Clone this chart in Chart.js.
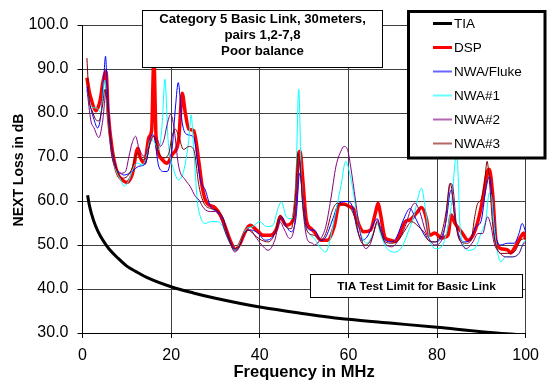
<!DOCTYPE html>
<html>
<head>
<meta charset="utf-8">
<script src="https://cdn.jsdelivr.net/npm/chart.js@4"></script>
<style>
    body { margin: 0; background: #fff; }
    #next-chart { display: block; }
</style>
</head>
<body>
<canvas id="next-chart" width="547" height="387"></canvas>
<script>
"use strict";

//=> Data: [frequency MHz, NEXT loss dB] per trace
var tiaLimit = [[1.15, 61.3], [1.5, 59.3], [2, 57.2], [3, 54.2], [4, 52.1], [5, 50.5], [6, 49.1], [8, 47], [10, 45.2],
    [12, 44], [15, 42.4], [20, 40.5], [25, 39.1], [30, 37.9], [40, 35.9], [50, 34.4], [60, 33.1], [70, 32.2], [80, 31.3], [90, 30.3], [100, 29.5]];

var dsp = [[1, 88], [1.5, 85], [2, 83], [3, 80.5], [4, 83], [4.6, 87], [5.3, 89.4], [5.8, 80], [6.7, 71.7], [7.9, 66.3],
    [9, 64.8], [9.9, 64.2], [11.2, 66], [12.5, 72], [13, 70], [14, 68.6], [15, 74.5], [15.6, 76], [16.1, 92.5], [16.6, 74.7],
    [18, 69.4], [19.1, 68.6], [20.2, 70.5], [21.7, 74], [22.5, 84.5], [23.2, 80], [24, 76.3], [25.1, 76], [26.3, 68.6], [27, 63.3],
    [27.7, 60.3], [28.5, 59.1], [29.6, 58.7], [31.1, 56.8], [32.2, 54.2], [33.3, 51.1], [34.5, 49], [35.6, 50.4], [36.7, 53], [37.8, 54.5],
    [39.3, 53.4], [40.8, 52.2], [42.3, 52.2], [43.8, 53.7], [44.6, 56.4], [46, 54.5], [47.5, 55.7], [48.2, 61], [48.8, 71], [49.1, 71.3],
    [49.7, 65], [50.5, 55.7], [51.6, 53.7], [52.3, 53], [53.8, 51.1], [55.3, 51.1], [56.8, 54.2], [57.9, 59.2], [59, 59.3], [60.1, 58.8],
    [61.3, 58], [62.4, 54.5], [63.5, 53], [65, 53.4], [66.1, 57.3], [66.7, 59.5], [67.2, 57.3], [68.3, 51.6], [69.5, 51.1], [70.6, 50.8],
    [71.7, 52.7], [72.8, 55.3], [73.9, 55.7], [75.4, 57.3], [76.5, 58.5], [77.6, 56], [78.3, 52.2], [79.5, 52.7], [81, 51.6], [82.5, 52.3],
    [83.2, 56.8], [84, 55], [85.5, 53], [87, 51.1], [88, 52], [89.2, 55.3], [90.3, 60.3], [91.4, 66.8], [91.8, 67.2], [92.6, 61],
    [93.3, 51.1], [94.4, 49.2], [95.9, 48.9], [96.6, 48.2], [97.4, 49.2], [98.9, 51.9], [99.6, 52.7], [100, 51.3]];

var nwaFluke = [[1, 86], [1.9, 81], [2.6, 78.5], [3.4, 76.6], [4.2, 80], [4.8, 88], [5.2, 92.9], [5.6, 85], [6.4, 74], [7.5, 67.9],
    [8.6, 66.3], [9.4, 65.9], [11.2, 66.7], [12.7, 67.9], [13.9, 68.2], [14.6, 69.8], [15.4, 74.7], [16, 75], [17.2, 67.9], [18.4, 66.7],
    [19.1, 66.7], [20.2, 71.7], [21, 81.6], [21.6, 86.9], [22.5, 77.8], [23.6, 75.1], [25.1, 74.5], [25.9, 69.4], [26.6, 64.8], [27.7, 62.5],
    [28.9, 58.7], [30.4, 57.6], [31.8, 56], [32.6, 53], [33.7, 50], [34.4, 48.8], [35.6, 50.4], [36.7, 53], [38.2, 53.4], [39.7, 52.6],
    [41.2, 51.1], [42.6, 51.5], [44.1, 54.5], [44.9, 56.4], [46, 54.2], [47.1, 53], [48.2, 56.4], [49, 66.3], [49.7, 61], [50.5, 54.5],
    [51.6, 53.4], [52.3, 53.4], [53.8, 51], [54.9, 51.8], [56.4, 55.7], [57.9, 59.5], [59.8, 59.9], [60.9, 58.7], [62, 53.4], [63.1, 51.1],
    [64.2, 51.8], [65.7, 54.9], [66.5, 56], [67.2, 54.2], [68.3, 51.1], [69.8, 50.7], [70.9, 51.8], [72.4, 55.7], [73.9, 58.3], [75, 56.4],
    [76.5, 53.4], [78, 51.1], [79.5, 50.7], [81, 51.8], [82.1, 55.7], [82.9, 61.8], [83.2, 62.5], [84, 56.4], [85.1, 51.8], [86.2, 50.7],
    [87.7, 51.5], [88.8, 54.2], [89.9, 55.3], [91, 62.5], [91.8, 65.6], [92.6, 58.7], [93.3, 51.8], [94.4, 50], [95.9, 50.4], [97.4, 50.4],
    [98.5, 52.6], [99.2, 54.9], [100, 53]];

var nwa1 = [[1, 85], [1.9, 81.6], [2.6, 81.2], [3.4, 81], [4.2, 80], [5, 87.5], [5.5, 82], [6.4, 72.4], [7.5, 67.1], [8.6, 64.8],
    [9.4, 63.4], [10.5, 64.8], [11.6, 67.9], [12.4, 68.6], [13.5, 68.2], [14.2, 69.4], [15.4, 74], [16.3, 73.2], [17.2, 71.7], [18, 77.8],
    [18.6, 87.7], [19.3, 74], [20.6, 67.1], [21.7, 64.8], [22.8, 66.7], [24, 74], [24.5, 79.5], [25.1, 71.7], [25.9, 60.2], [26.6, 56.4],
    [27.7, 54.9], [28.9, 55.3], [30.4, 55.3], [31.5, 54.5], [32.6, 51.8], [33.7, 49.6], [34.4, 48.8], [35.6, 50.7], [37, 53.7], [38.2, 54.1],
    [40, 55.3], [41.5, 54.2], [43, 54.5], [44.1, 58.3], [44.9, 59.8], [46, 56.4], [47.1, 56], [48.1, 62.5], [48.8, 85.4], [49.3, 67.9],
    [50.1, 55.7], [51.2, 52.6], [52.3, 51.5], [53.8, 49.2], [54.9, 48.4], [56, 51.8], [57.2, 57.9], [58.3, 63.3], [59.4, 69], [60.1, 67.1],
    [60.9, 63.3], [62, 56.4], [63.1, 51.8], [64.2, 50.4], [65.7, 53], [66.5, 54.9], [67.2, 52.6], [68.7, 49.2], [70.6, 48.4], [72.1, 49.6],
    [73.5, 53], [74.7, 56.4], [76.2, 62.5], [76.5, 62.9], [77.3, 58.7], [78.4, 51.1], [79.9, 49.2], [81, 49.6], [82.1, 52.6], [83.2, 58.7],
    [84, 68], [84.4, 72], [84.8, 65], [85.1, 55.7], [85.9, 50.4], [87, 48.8], [88.5, 49.2], [89.9, 52.6], [91, 55.7], [91.8, 61.8],
    [92.3, 61], [92.9, 54.2], [93.7, 48.1], [94.4, 46.2], [95.5, 47.3], [97, 47.3], [98.5, 48.1], [99.6, 50.7], [100, 51.1]];

var nwa2 = [[1, 85.4], [1.9, 78.2], [2.6, 76.6], [3.7, 74.4], [4.5, 77.8], [5.4, 85.2], [5.9, 78], [6.4, 71.7], [7.5, 67.5], [8.6, 66.3],
    [9.7, 66.7], [10.5, 70.2], [11.2, 73.2], [12, 74.7], [12.7, 72.1], [13.9, 70.2], [15, 72.4], [16.1, 74.7], [16.9, 74], [17.6, 72.4],
    [18.4, 74], [19.1, 77.4], [19.9, 79.7], [20.6, 77], [21.7, 67.9], [23.2, 64.8], [24.3, 63.3], [25.5, 61], [26.3, 60.2], [27.4, 58.3],
    [28.9, 57.6], [30, 57.6], [31.1, 56.4], [32.2, 53], [33.3, 50.4], [34.4, 48.4], [35.6, 50], [36.7, 53], [37.8, 53.4], [39.3, 51.5],
    [40.8, 49.6], [41.9, 48.8], [43.4, 51.1], [44.5, 55.3], [45.6, 53.4], [46.7, 51.5], [47.8, 54.2], [48.6, 64.8], [49, 69.4], [49.7, 58.7],
    [50.8, 51.1], [51.9, 50.4], [52.3, 50], [53.8, 51.5], [54.9, 54.2], [56, 60.2], [57.2, 67.9], [58.3, 71.3], [59, 72.4], [59.8, 71.7],
    [60.5, 67.9], [61.6, 60.2], [62.7, 52.6], [63.9, 49.2], [65, 50.4], [66.1, 54.2], [66.6, 55.7], [67.2, 53.4], [68.3, 50.4], [69.8, 49.6],
    [71.3, 51.1], [72.8, 54.2], [74.3, 58.7], [75, 59.5], [76.2, 57.3], [77.3, 53.4], [78, 51.8], [79.5, 50], [80.6, 50.4], [81.8, 54.2],
    [82.5, 61], [83.1, 64], [83.6, 63], [84.4, 54.2], [85.5, 50.4], [86.6, 49.2], [88.1, 50.7], [89.2, 52.6], [90.3, 52.6], [91.4, 56.4],
    [92.2, 54.2], [92.9, 50.4], [94, 48.4], [95.5, 47.3], [97, 47.3], [98.5, 48.1], [99.6, 50.4], [100, 50.5]];

var nwa3 = [[1, 92.5], [1.5, 83.1], [2.2, 80.5], [3, 78.5], [3.7, 78.2], [4.5, 81.6], [5.1, 85.4], [6, 77], [6.7, 70.9], [7.9, 66.7],
    [9, 65.2], [10.1, 65.6], [11.2, 67.5], [12.4, 70.9], [13.5, 69.4], [14.6, 70.2], [15.4, 74], [16.1, 74.7], [17.2, 70.9], [18.4, 69.8],
    [19.5, 70.9], [20.2, 74.7], [21, 76.3], [21.7, 74.7], [22.8, 71.7], [24, 72.4], [25.1, 71.7], [26.3, 63.3], [27.4, 59.5], [28.9, 58.3],
    [30.4, 57.9], [31.8, 55.7], [32.9, 51.8], [34.1, 49.2], [35.2, 49.6], [36.3, 52.2], [37.4, 53.4], [38.9, 52.2], [40.4, 51.1], [41.9, 50.7],
    [43.4, 52.6], [44.6, 56.8], [45.6, 54.5], [47.1, 53.7], [48.1, 61.8], [48.6, 70.9], [49.1, 67.9], [49.7, 59.5], [50.8, 53], [52.3, 52.2],
    [53.8, 51.1], [54.9, 52.6], [56.4, 57.9], [57.5, 59.5], [59, 59.1], [60.5, 58.3], [61.6, 55.7], [62.7, 51.1], [63.9, 50], [65.4, 51.8],
    [66.5, 55.3], [67.2, 53.4], [68.3, 50.7], [69.8, 50.4], [71.3, 51.1], [72.8, 53.4], [74.3, 55.3], [75.8, 54.2], [77.3, 52.6], [78, 51.1],
    [79.5, 50.7], [81, 52.6], [82.1, 57.9], [82.9, 64], [83.2, 63.5], [84, 56.4], [85.1, 51.1], [86.6, 50.4], [87.7, 51.1], [88.5, 56.4],
    [89.2, 59.5], [89.9, 60.2], [90.7, 64], [91.3, 69], [91.8, 64.8], [92.6, 54.2], [93.3, 50], [94.4, 48.1], [95.9, 48.1], [97.4, 48.4],
    [98.9, 51.1], [100, 51.5]];

var seriesNames = ['TIA', 'DSP', 'NWA/Fluke', 'NWA#1', 'NWA#2', 'NWA#3'];
var freqTicks = [0, 20, 40, 60, 80, 100];
var lossTicks = [30, 40, 50, 60, 70, 80, 90, 100];
var noteLines = ['Category 5 Basic Link, 30meters,', 'pairs 1,2-7,8', 'Poor balance'];
var limitNote = 'TIA Test Limit for Basic Link';

var FONT = '"Liberation Sans", Arial, sans-serif';

var NextChart = function () {

    var traces = [tiaLimit, dsp, nwaFluke, nwa1, nwa2, nwa3];
    var colors = ['#000000', '#ff0000', '#0000ff', '#00ffff', '#800080', '#800000'];
    var widths = [3, 3.5, 1, 1, 1, 1];

    var toPoints = function (pairs) {
        return pairs.map(function (p) { return { x: p[0], y: p[1] }; });
    };

    //=> Boxes, legend and axis titles painted over the plot
    var overlays = {
        id: 'overlays',
        afterDraw: function (chart) {
            var ctx = chart.ctx;
            var area = chart.chartArea;
            ctx.save();
            ctx.fillStyle = '#000';
            ctx.textAlign = 'center';
            ctx.textBaseline = 'middle';

            ctx.font = 'bold 16.5px ' + FONT;
            ctx.fillText('Frequency in MHz', (area.left + area.right) / 2, 372);
            ctx.save();
            ctx.translate(19, 170);
            ctx.rotate(-Math.PI / 2);
            ctx.font = 'bold 14px ' + FONT;
            ctx.fillText('NEXT Loss in dB', 0, 0);
            ctx.restore();

            // description box
            ctx.fillStyle = '#fff';
            ctx.fillRect(142.5, 10.5, 240, 57);
            ctx.strokeStyle = '#000';
            ctx.lineWidth = 1;
            ctx.strokeRect(142.5, 10.5, 240, 57);
            ctx.fillStyle = '#000';
            ctx.font = 'bold 13.2px ' + FONT;
            noteLines.forEach(function (line, i) {
                ctx.fillText(line, 262.5, 19 + i * 16.4);
            });

            // limit label
            ctx.fillStyle = '#fff';
            ctx.fillRect(310.5, 274.5, 212, 23);
            ctx.strokeRect(310.5, 274.5, 212, 23);
            ctx.fillStyle = '#000';
            ctx.font = 'bold 11.8px ' + FONT;
            ctx.fillText(limitNote, 416.5, 286.5);

            // legend
            ctx.fillStyle = '#fff';
            ctx.fillRect(408.5, 11.5, 136.5, 146.5);
            ctx.lineWidth = 3;
            ctx.strokeRect(408.5, 11.5, 136.5, 146.5);
            ctx.textAlign = 'left';
            ctx.font = '13.5px ' + FONT;
            chart.data.datasets.forEach(function (ds, i) {
                var y = 23.5 + i * 24;
                ctx.strokeStyle = ds.borderColor;
                ctx.lineWidth = ds.borderWidth > 2 ? 3 : 2;
                ctx.globalAlpha = ds.borderWidth > 2 ? 1 : 0.6;
                ctx.beginPath();
                ctx.moveTo(433, y);
                ctx.lineTo(452, y);
                ctx.stroke();
                ctx.globalAlpha = 1;
                ctx.fillStyle = '#000';
                ctx.fillText(ds.label, 454, y + 1);
            });
            ctx.restore();
        }
    };

    var initChart = function () {
        var ctx = document.getElementById('next-chart').getContext('2d');
        var datasets = traces.map(function (trace, i) {
            return {
                label: seriesNames[i],
                data: toPoints(trace),
                borderColor: colors[i],
                backgroundColor: colors[i],
                borderWidth: widths[i],
                pointRadius: 0,
                cubicInterpolationMode: 'monotone',
                fill: false,
                order: traces.length - i
            };
        });

        new Chart(ctx, {
            type: 'line',
            data: { datasets: datasets },
            options: {
                responsive: false,
                animation: false,
                devicePixelRatio: 1,
                layout: { padding: { top: 25, right: 17, left: 0, bottom: 0 } },
                plugins: { legend: { display: false }, tooltip: { enabled: false } },
                scales: {
                    x: {
                        type: 'linear',
                        min: freqTicks[0],
                        max: freqTicks[freqTicks.length - 1],
                        afterBuildTicks: function (axis) {
                            axis.ticks = freqTicks.map(function (v) { return { value: v }; });
                        },
                        afterFit: function (axis) { axis.height = 54; },
                        grid: { color: '#404040', lineWidth: 1, tickLength: 5, tickColor: '#000' },
                        border: { color: '#000', width: 1 },
                        ticks: {
                            color: '#000',
                            padding: 8,
                            maxRotation: 0,
                            font: { family: FONT, size: 16 }
                        }
                    },
                    y: {
                        type: 'linear',
                        min: lossTicks[0],
                        max: lossTicks[lossTicks.length - 1],
                        afterBuildTicks: function (axis) {
                            axis.ticks = lossTicks.map(function (v) { return { value: v }; });
                        },
                        afterFit: function (axis) { axis.width = 82.5; },
                        grid: { color: '#404040', lineWidth: 1, tickLength: 5, tickColor: '#000' },
                        border: { color: '#000', width: 1 },
                        ticks: {
                            color: '#000',
                            padding: 9,
                            font: { family: FONT, size: 16 },
                            callback: function (v) { return Number(v).toFixed(1); }
                        }
                    }
                }
            },
            plugins: [overlays]
        });
    };

    return {
        init: function () {
            initChart();
        }
    };
}();

NextChart.init();
</script>
</body>
</html>
